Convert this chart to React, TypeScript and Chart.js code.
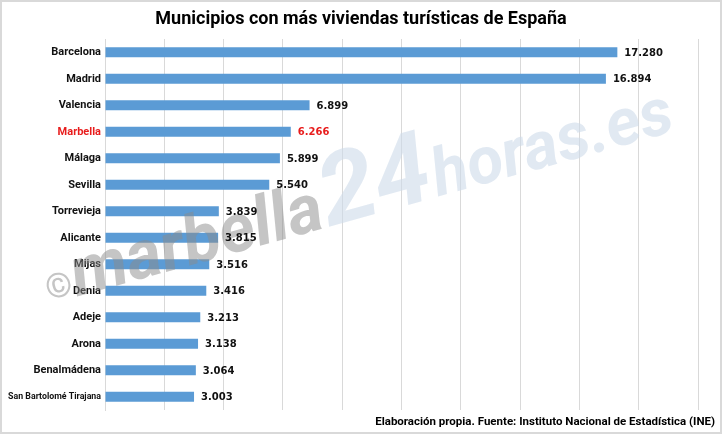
import React, { useEffect, useRef } from "react";
import { Chart, registerables } from "chart.js";

Chart.register(...registerables);

const categories = [
  "Barcelona", "Madrid", "Valencia", "Marbella", "Málaga", "Sevilla", "Torrevieja",
  "Alicante", "Mijas", "Denia", "Adeje", "Arona", "Benalmádena", "San Bartolomé Tirajana",
];
const values = [17280, 16894, 6899, 6266, 5899, 5540, 3839, 3815, 3516, 3416, 3213, 3138, 3064, 3003];
const highlight = "Marbella";
const titleText = "Municipios con más viviendas turísticas de España";
const sourceText = "Elaboración propia. Fuente: Instituto Nacional de Estadística (INE)";
const xMax = 20000;
const xStep = 2000;

const fmt = (v: number) => v.toLocaleString("de-DE");

export default function App() {
  const ref = useRef<HTMLCanvasElement | null>(null);
  useEffect(() => {
    const canvas = ref.current!;
    const decor = {
      id: "decor",
      beforeDraw(chart: any) {
        const { ctx, width, height } = chart;
        ctx.save();
        ctx.fillStyle = "#ffffff";
        ctx.fillRect(0, 0, width, height);
        ctx.strokeStyle = "#d9d9d9";
        ctx.lineWidth = 2;
        ctx.strokeRect(1, 1, width - 2, height - 2);
        ctx.restore();
      },
      afterDatasetsDraw(chart: any) {
        const { ctx, width } = chart;
        const meta = chart.getDatasetMeta(0);
        ctx.save();
        // watermark
        ctx.save();
        ctx.translate(50, 304);
        ctx.rotate(-0.27);
        ctx.textAlign = "left";
        ctx.textBaseline = "alphabetic";
        ctx.font = "bold 34px 'Roboto'";
        ctx.fillStyle = "rgba(140,140,140,0.5)";
        ctx.fillText("©", 0, -4);
        ctx.font = "italic bold 68px 'Roboto'";
        ctx.fillText("marbella", 28, 0);
        const w = ctx.measureText("marbella").width;
        ctx.fillStyle = "rgba(205,218,234,0.6)";
        ctx.font = "italic bold 100px 'Roboto'";
        ctx.fillText("24", 28 + w + 2, 0);
        const w2 = ctx.measureText("24").width;
        ctx.font = "italic bold 66px 'Roboto'";
        ctx.fillText("horas.es", 28 + w + 2 + w2 + 2, 0);
        ctx.restore();

        ctx.font = "bold 10px 'DejaVu Sans'";
        ctx.textBaseline = "middle";
        ctx.textAlign = "left";
        meta.data.forEach((bar: any, i: number) => {
          ctx.fillStyle = categories[i] === highlight ? "#e81c1c" : "#111111";
          ctx.fillText(fmt(values[i]), bar.x + 7, bar.y + 1);
        });
        // title
        ctx.fillStyle = "#000000";
        ctx.textAlign = "center";
        ctx.font = "bold 18px 'Roboto'";
        ctx.fillText(titleText, width / 2, 19);
        // source
        ctx.textAlign = "right";
        ctx.font = "bold 11.5px 'Roboto'";
        ctx.fillText(sourceText, width - 7, 422);
        ctx.restore();
      },
    };
    const chart = new Chart(canvas, {
      type: "bar",
      data: {
        labels: categories,
        datasets: [
          {
            data: values,
            backgroundColor: "#5b9bd5",
            borderWidth: 0,
            categoryPercentage: 0.8,
            barPercentage: 0.47,
          },
        ],
      },
      options: {
        indexAxis: "y",
        animation: false,
        responsive: false,
        layout: { padding: { top: 39, right: 24, bottom: 24, left: 0 } },
        plugins: { legend: { display: false }, tooltip: { enabled: false }, title: { display: false } },
        scales: {
          x: {
            min: 0,
            max: xMax,
            ticks: { display: false, stepSize: xStep },
            grid: { color: "#d9d9d9", drawTicks: false },
            border: { display: false },
          },
          y: {
            grid: { display: false, drawTicks: false },
            border: { display: true, color: "#d9d9d9" },
            afterFit(scale: any) {
              scale.width = 105;
            },
            ticks: {
              padding: 4,
              color: (c: any) => (categories[c.index] === highlight ? "#e81c1c" : "#111111"),
              font: (c: any) => ({
                family: "'Roboto'",
                weight: "bold",
                size: categories[c.index] === "San Bartolomé Tirajana" ? 8.8 : 11,
              }),
            },
          },
        },
      },
      plugins: [decor],
    });
    return () => chart.destroy();
  }, []);
  return (
    <div style={{ position: "fixed", left: 0, top: 0, width: 722, height: 434 }}>
      <canvas ref={ref} width={722} height={434} style={{ display: "block" }} />
    </div>
  );
}
